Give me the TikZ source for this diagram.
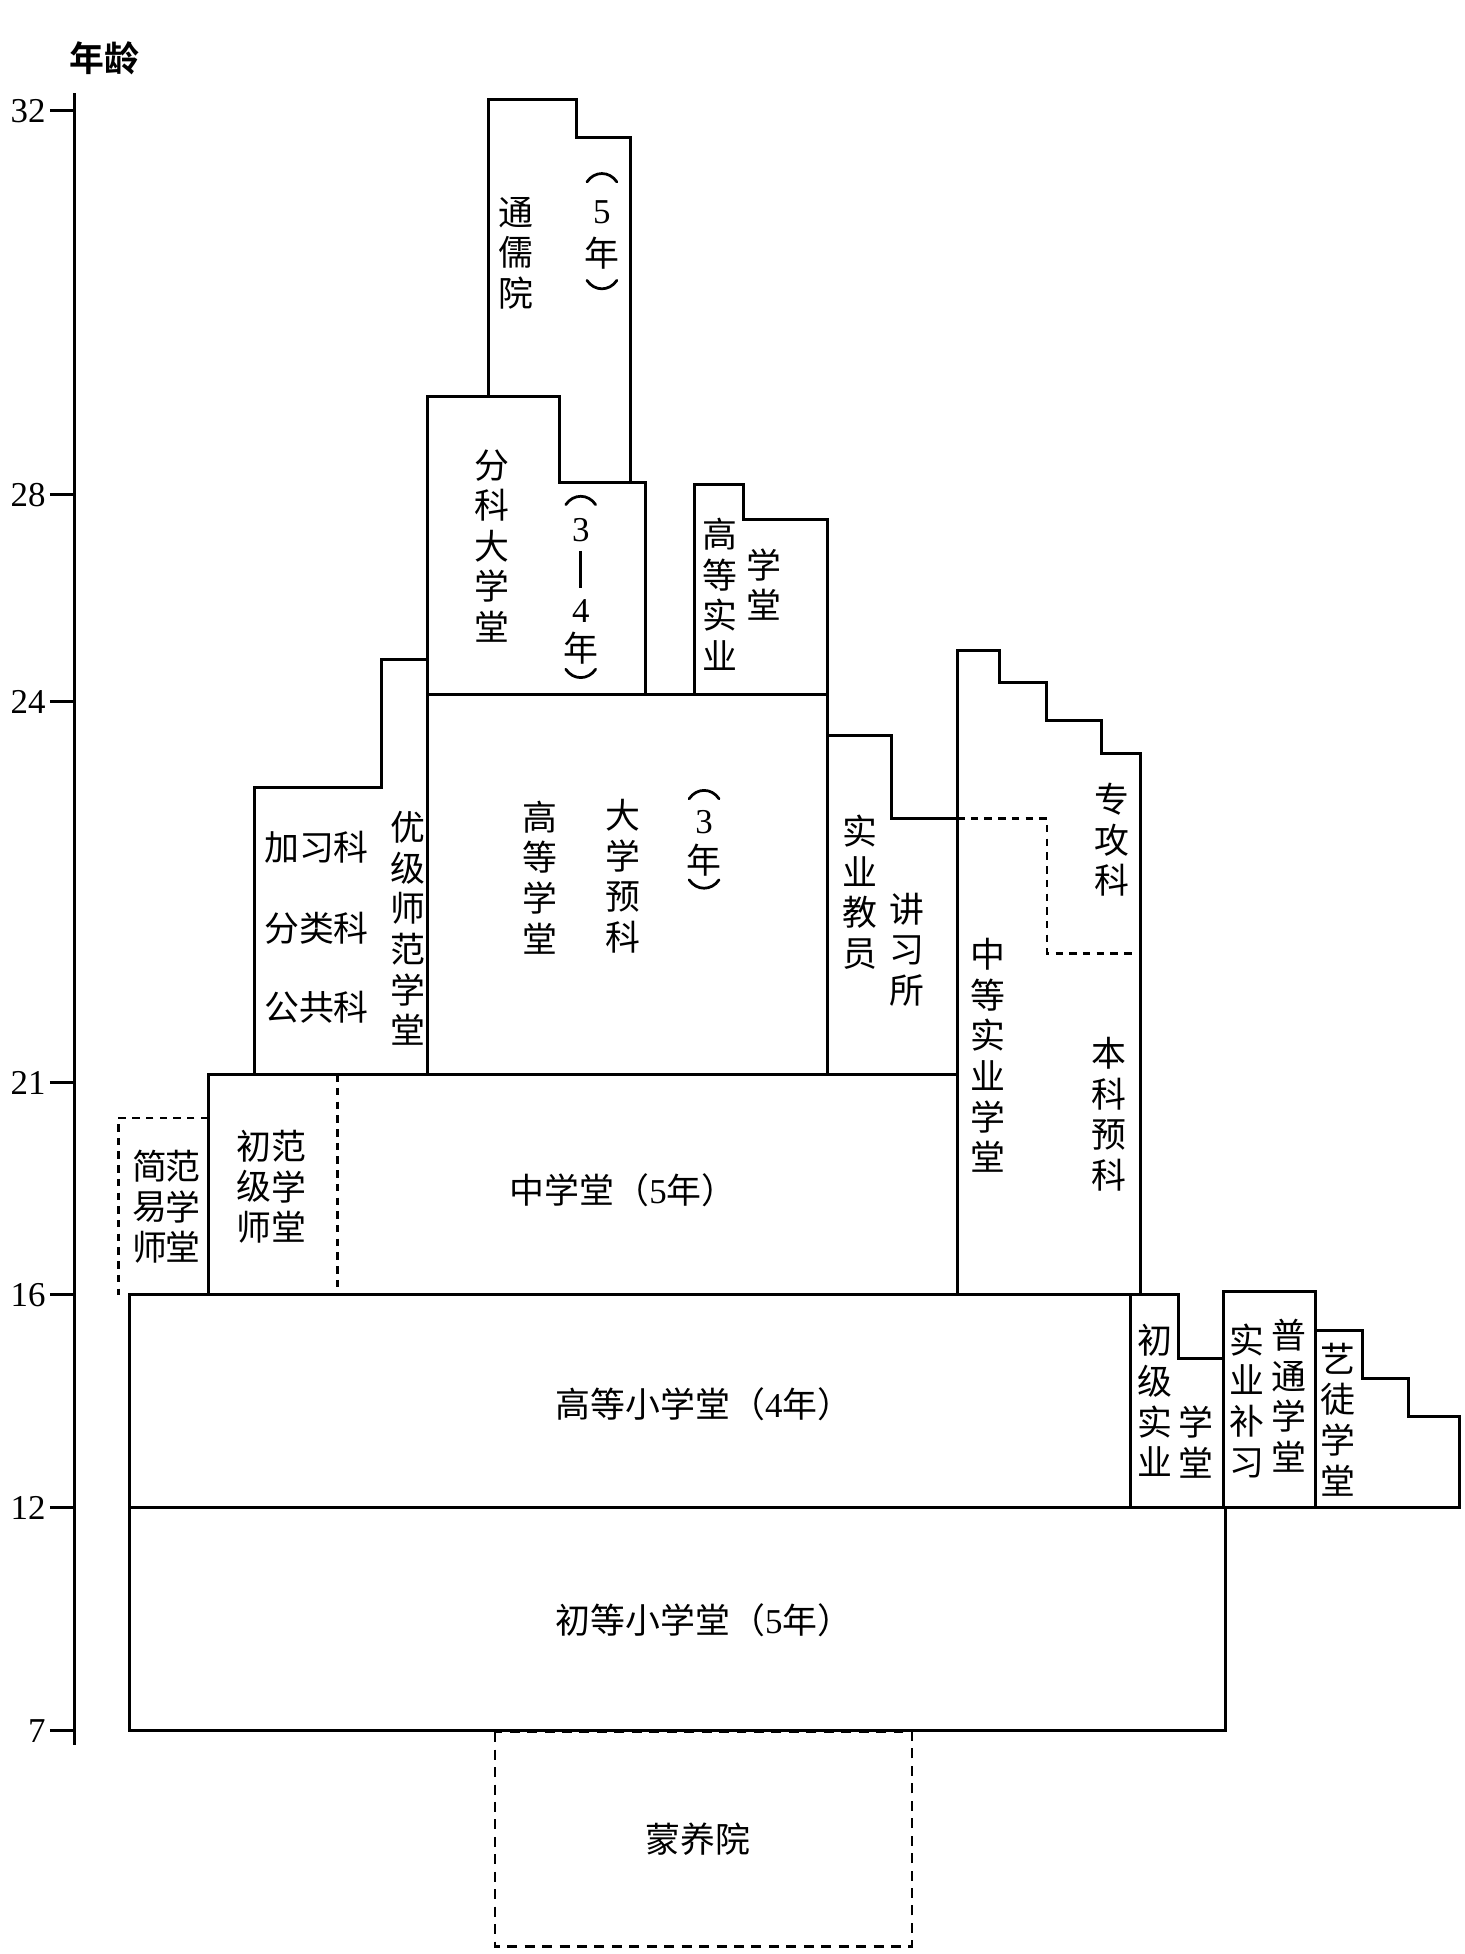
\documentclass[tikz,border=0pt]{standalone}
\usepackage{fontspec}
\setmainfont{Liberation Serif}
\newfontfamily\cjk{Noto Sans CJK SC}
\newcommand\mydig[1]{{\rmfamily #1}}
\begin{document}
\begin{tikzpicture}[x=0.5pt,y=-0.5pt,
  box/.style={line width=1.2pt, line join=miter},
  dotln/.style={line width=1pt, dash pattern=on 3pt off 2.5pt},
  dshln/.style={line width=0.9pt, dash pattern=on 4pt off 3pt},
  arcln/.style={line width=1.1pt, line cap=round},
  col/.style={font=\cjk\fontsize{14}{16.3}\selectfont, align=center, inner sep=0pt},
  row/.style={font=\cjk\fontsize{14}{16.3}\selectfont, inner sep=0pt},
  num/.style={font=\fontsize{14}{16}\selectfont, inner sep=0pt, anchor=east},
  dig/.style={font=\fontsize{14}{16}\selectfont, inner sep=0pt}]
\useasboundingbox (0,0) rectangle (1175,1568);

% axis
\draw[box] (60,75) -- (60,1400);
\foreach \yy/\lab/\nm in {89/32/a, 397/28/b, 563/24/c, 869/21/d, 1039/16/e, 1210/12/f, 1389/7/g}{
  \draw[box] (40,\yy) -- (60,\yy);
  \node[num] (tick\nm) at (37,\yy) {\lab};
}
\node[row] (age) at (84,47) {\fontspec{Noto Sans CJK SC Bold}年龄};

% primary
\draw[box] (104,1210) rectangle (983,1389);
\draw[box] (104,1039) rectangle (907,1210);
\draw[box] (907,1210) -- (907,1039) -- (946,1039) -- (946,1090) -- (982,1090) -- (982,1210);
\draw[box] (982,1036) rectangle (1056,1210);
\draw[box] (1056,1068) -- (1093,1068) -- (1093,1106) -- (1130,1106) -- (1130,1137) -- (1171,1137) -- (1171,1210) -- (1056,1210);

% middle
\draw[box] (167,862) rectangle (768,1039);
\draw[dotln] (271,862) -- (271,1039);
\draw[dotln] (167,897) -- (95,897) -- (95,1039);

% upper
\draw[box] (204,862) -- (204,632) -- (306,632) -- (306,529) -- (343,529) -- (343,862);
\draw[box] (343,557) rectangle (664,862);
\draw[box] (343,557) -- (343,318) -- (449,318) -- (449,387) -- (518,387) -- (518,557);
\draw[box] (392,318) -- (392,80) -- (463,80) -- (463,110) -- (506,110) -- (506,387);
\draw[box] (557,557) -- (557,389) -- (597,389) -- (597,417) -- (664,417) -- (664,557);
\draw[box] (664,590) -- (715,590) -- (715,657) -- (768,657);
\draw[box] (768,1039) -- (768,522) -- (802,522) -- (802,548) -- (840,548) -- (840,578) -- (884,578) -- (884,605) -- (915,605) -- (915,1039);
\draw[dotln] (768,657) -- (840,657) -- (840,765) -- (912,765);

% kindergarten
\draw[dshln] (397,1390) rectangle (732,1562);

% texts
\node[row] (mengyang) at (560,1476) {蒙养院};
\node[row] (chudeng) at (565,1300) {初等小学堂（\mydig{5}年）};
\node[row] (gaodengxiao) at (565,1127) {高等小学堂（\mydig{4}年）};
\node[row] (zhongxue) at (500,955) {中学堂（\mydig{5}年）};

\node[col] (chuji1) at (927,1124) {初\\级\\实\\业};
\node[col] (chuji2) at (960,1157) {学\\堂};
\node[col] (butong1) at (1001,1124) {实\\业\\补\\习};
\node[col] (butong2) at (1034,1120) {普\\通\\学\\堂};
\node[col] (yitu) at (1074,1139) {艺\\徒\\学\\堂};

\node[col] (jianyi1) at (120,968) {简\\易\\师};
\node[col] (jianyi2) at (147,968) {范\\学\\堂};
\node[col] (chushi1) at (204,952) {初\\级\\师};
\node[col] (chushi2) at (232,952) {范\\学\\堂};

\node[col] (youji) at (327,745) {优\\级\\师\\范\\学\\堂};
\node[row] (jiaxi) at (254,680) {加习科};
\node[row] (fenlei) at (254,745) {分类科};
\node[row] (gonggong) at (254,808) {公共科};

\node[col] (gaodeng1) at (433,704) {高\\等\\学\\堂};
\node[col] (gaodeng2) at (500,703) {大\\学\\预\\科};
\node[dig] (gd3a) at (565,660) {3};
\node[row] (gd3b) at (565,690) {年};
\draw[arcln] (553,641) .. controls (559,632) and (571,632) .. (577,641);
\draw[arcln] (553,706) .. controls (559,715) and (571,715) .. (577,706);

\node[col] (fenke1) at (395,438) {分\\科\\大\\学\\堂};
\node[dig] (fk3) at (466,425) {3};
\node[dig] (fk4) at (466,490) {4};
\node[row] (fknian) at (466,520) {年};
\draw[line width=1.3pt] (466,442) -- (466,472);
\draw[arcln] (454,405) .. controls (460,396) and (472,396) .. (478,405);
\draw[arcln] (454,537) .. controls (460,546) and (472,546) .. (478,537);

\node[col] (tongru1) at (414,203) {通\\儒\\院};
\node[dig] (tr5) at (483,170) {5};
\node[row] (trnian) at (483,203) {年};
\draw[arcln] (471,146) .. controls (477,137) and (489,137) .. (495,146);
\draw[arcln] (471,225) .. controls (477,234) and (489,234) .. (495,225);

\node[col] (gsy1) at (578,477) {高\\等\\实\\业};
\node[col] (gsy2) at (613,469) {学\\堂};

\node[col] (sjy1) at (690,716) {实\\业\\教\\员};
\node[col] (sjy2) at (728,762) {讲\\习\\所};

\node[col] (zdsy) at (793,847) {中\\等\\实\\业\\学\\堂};
\node[col] (zhuangong) at (892,674) {专\\攻\\科};
\node[col] (benke) at (890,894) {本\\科\\预\\科};
\end{tikzpicture}
\end{document}
